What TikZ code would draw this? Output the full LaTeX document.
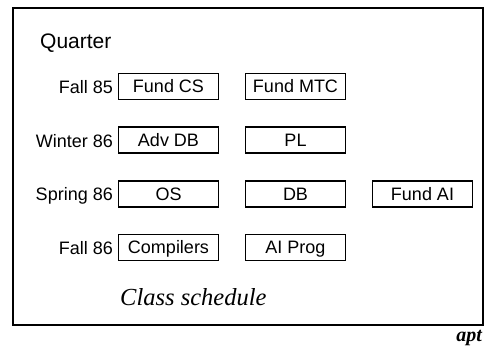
\documentclass[tikz,border=0pt]{standalone}
\usepackage{fontspec}
\setmainfont{Liberation Sans}
\newfontfamily\timesfont{Liberation Serif}
\begin{document}
\begin{tikzpicture}[x=1pt,y=-1pt,
  course/.style={draw, line width=1.7pt, minimum width=100pt, minimum height=26pt,
    inner sep=0pt, text height=14.5pt, text depth=2pt, font=\fontsize{18}{20}\selectfont},
  qlabel/.style={anchor=base east, inner sep=0pt, font=\fontsize{18}{20}\selectfont}]
\useasboundingbox (0,0) rectangle (486,346);
\node[draw, line width=2pt, minimum width=470pt, minimum height=317pt, anchor=north west, inner sep=0pt] (frame) at (12,7) {};
\node[anchor=base west, inner sep=0pt, font=\fontsize{21}{24}\selectfont] (quarter) at (40,48) {Quarter};
% rows
\node[qlabel] (l1) at (113,93) {Fall 85};
\node[qlabel] (l2) at (113,147) {Winter 86};
\node[qlabel] (l3) at (113,200.5) {Spring 86};
\node[qlabel] (l4) at (113,254) {Fall 86};
\node[course] (fcs) at (168.5,86.5) {Fund CS};
\node[course] (fmtc) at (295.5,86.5) {Fund MTC};
\node[course] (advdb) at (168.5,140) {Adv DB};
\node[course] (pl) at (295.5,140) {PL};
\node[course] (os) at (168.5,194) {OS};
\node[course] (db) at (295.5,194) {DB};
\node[course] (fai) at (422.5,194) {Fund AI};
\node[course] (comp) at (168.5,247.5) {Compilers};
\node[course] (aip) at (295.5,247.5) {AI Prog};
\node[anchor=base west, inner sep=0pt, font=\timesfont\itshape\fontsize{24.5}{26}\selectfont] (title) at (120,305) {Class schedule};
\node[anchor=base east, inner sep=0pt, font=\timesfont\bfseries\itshape\fontsize{20}{22}\selectfont] (apt) at (482,341) {apt};
\end{tikzpicture}
\end{document}
